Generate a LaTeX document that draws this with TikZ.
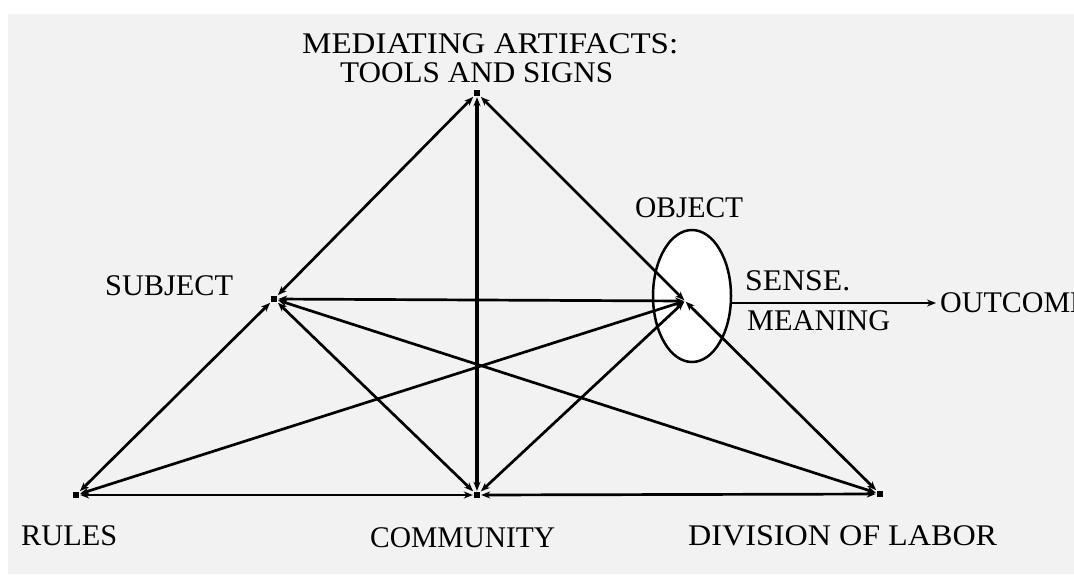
\documentclass[tikz,border=0pt]{standalone}
\usepackage{fontspec}
\usepackage{graphicx}
\setmainfont{Liberation Serif}
\usetikzlibrary{arrows.meta,shapes.geometric}
\definecolor{bggray}{HTML}{F2F2F2}
\newcommand\fitw[2]{\resizebox{#1}{\height}{#2}}
\tikzset{
  tip/.tip={Stealth[length=9pt,width=7pt]},
  conn/.style={line width=2.7pt, {tip}-{tip}, shorten <=1pt, shorten >=1pt},
  vdot/.style={rectangle, fill=black, inner sep=0pt, minimum size=6pt},
  lbl/.style={font=\fontsize{30}{32}\selectfont, inner sep=0pt, anchor=base west},
}
\begin{document}
\begin{tikzpicture}[x=1pt,y=-1pt]
\useasboundingbox (0,0) rectangle (1074,574);
\fill[bggray] (8,14) rectangle (1074,574);
% object ellipse
\node[ellipse, draw, line width=2.5pt, fill=white, minimum width=78pt, minimum height=132pt, inner sep=0pt] (objEll) at (692,296) {};
% vertices
\node[vdot] (T) at (477,93) {};
\node[vdot] (S) at (274,299) {};
\node[vdot] (R) at (76,495) {};
\node[vdot] (C) at (477,495) {};
\node[vdot] (D) at (880,494) {};
\coordinate (O) at (685,301);
\coordinate (outc) at (936,303);
% connectors
\draw[conn] (S) -- (T);
\draw[conn] (T) -- (O);
\draw[conn] (O) -- (D);
\draw[conn, line width=3.4pt] (T) -- (C);
\draw[conn] (R) -- (S);
\draw[conn] (R) -- (C);
\draw[conn] (C) -- (D);
\draw[conn] (S) -- (O);
\draw[conn] (S) -- (C);
\draw[conn] (S) -- (D);
\draw[conn] (R) -- (O);
\draw[conn] (C) -- (O);
\draw[line width=2.5pt, -{Stealth[length=9pt,width=7pt]}] (objEll.east |- outc) -- (outc);
% labels
\node[lbl] (lmed) at (302,53) {\fitw{376pt}{MEDIATING ARTIFACTS:}};
\node[lbl] (ltools) at (340,82) {\fitw{273pt}{TOOLS AND SIGNS}};
\node[lbl] (lsubj) at (105,295) {\fitw{128pt}{SUBJECT}};
\node[lbl] (lobj) at (635,217) {\fitw{108pt}{OBJECT}};
\node[lbl] (lsense) at (745,290) {\fitw{105pt}{SENSE.}};
\node[lbl] (lmean) at (747,330) {\fitw{143pt}{MEANING}};
\node[lbl] (lout) at (940,312) {OUTCOME};
\node[lbl] (lrules) at (21,545) {\fitw{96pt}{RULES}};
\node[lbl] (lcomm) at (370,547) {\fitw{185pt}{COMMUNITY}};
\node[lbl] (ldiv) at (688,545) {\fitw{309pt}{DIVISION OF LABOR}};
\end{tikzpicture}
\end{document}
